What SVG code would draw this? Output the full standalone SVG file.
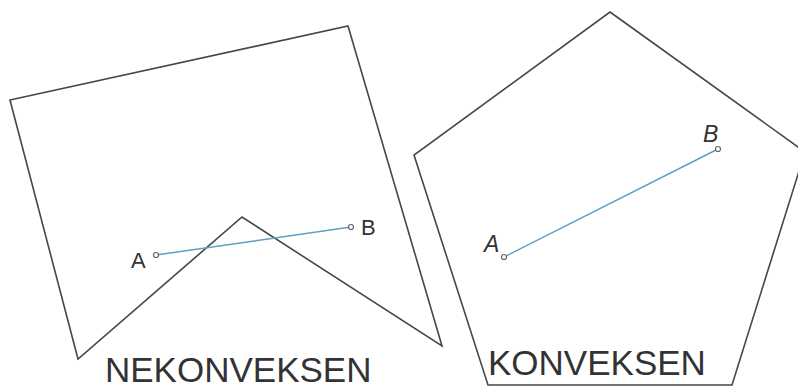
<svg xmlns="http://www.w3.org/2000/svg" width="798" height="387" viewBox="0 0 798 387">
<style>
.poly{fill:none;stroke:#474747;stroke-width:1.6;stroke-linejoin:miter}
.seg{stroke:#5d9fc4;stroke-width:1.5;fill:none}
.pt{fill:#fff;stroke:#666;stroke-width:1.2}
.lbl{font-family:"Liberation Sans",Arial,sans-serif;fill:#333}
.big{font-family:"Liberation Sans",Arial,sans-serif;font-size:35px;fill:#333}
</style>
<rect width="798" height="387" fill="#fff"/>
<g id="nonconvex">
<polygon class="poly" points="10,100 348,26 442,346 242,217 78,359"/>
<text class="big" x="105" y="382">NEKONVEKSEN</text>
</g>
<g id="convex">
<polygon class="poly" points="610,12 805,152 732,385 488,385 414,155"/>
<text class="big" x="488" y="375">KONVEKSEN</text>
</g>
<g id="connectors">
<line class="seg" x1="156" y1="255" x2="351" y2="227"/>
<circle class="pt" cx="156" cy="255" r="2.5"/>
<circle class="pt" cx="351" cy="227" r="2.5"/>
<line class="seg" x1="504" y1="257" x2="718" y2="149"/>
<circle class="pt" cx="504" cy="257" r="2.5"/>
<circle class="pt" cx="718" cy="149" r="2.5"/>
</g>
<g id="labels">
<text class="lbl" x="131" y="268" font-size="22">A</text>
<text class="lbl" x="361" y="235" font-size="22">B</text>
<text class="lbl" x="484" y="252" font-size="23" font-style="italic">A</text>
<text class="lbl" x="703" y="142" font-size="23" font-style="italic">B</text>
</g>
</svg>
